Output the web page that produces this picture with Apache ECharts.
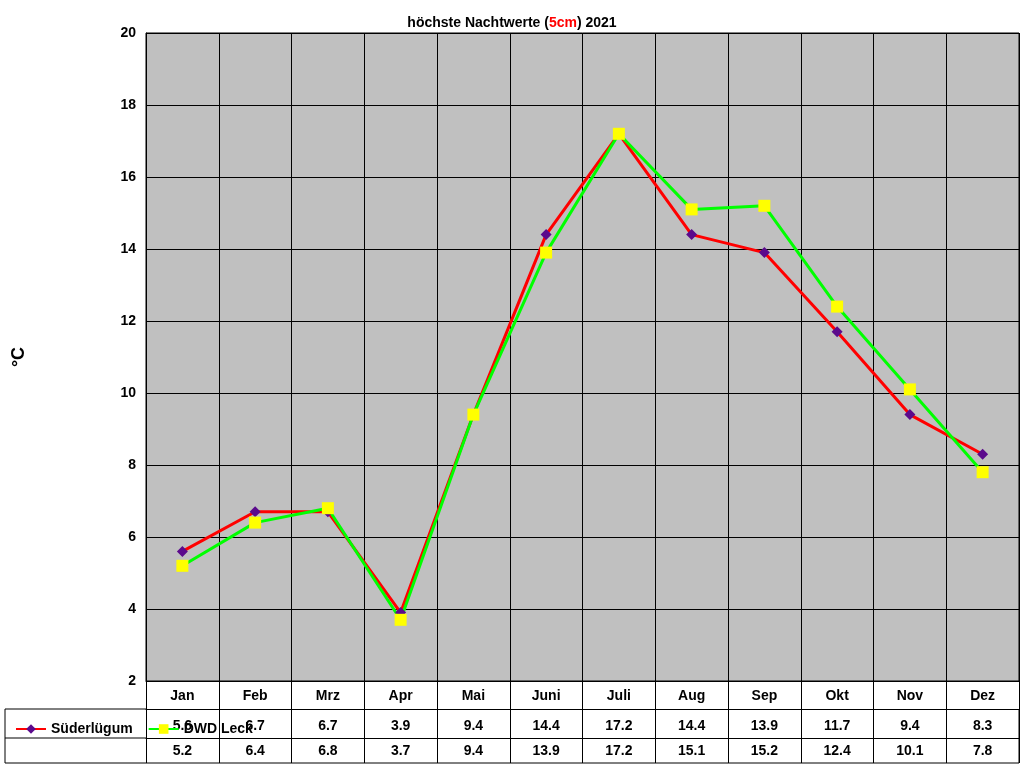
<!DOCTYPE html>
<html><head><meta charset="utf-8">
<script src="https://cdn.jsdelivr.net/npm/echarts@6/dist/echarts.min.js"></script>
<style>html,body{margin:0;padding:0;background:#fff}#c{width:1024px;height:768px}</style>
</head><body><div id="c"></div>
<script>
const months = ['Jan','Feb','Mrz','Apr','Mai','Juni','Juli','Aug','Sep','Okt','Nov','Dez'];
const suederluegum = [5.6,6.7,6.7,3.9,9.4,14.4,17.2,14.4,13.9,11.7,9.4,8.3];
const dwdLeck = [5.2,6.4,6.8,3.7,9.4,13.9,17.2,15.1,15.2,12.4,10.1,7.8];
const yTicks = {min:2, max:20, interval:2};

const F = {fontFamily:'Arial, Liberation Sans, sans-serif', fontWeight:'bold', fontSize:14, color:'#000'};
const chart = echarts.init(document.getElementById('c'));
function tableAxis(data, offset, margin, showLine){
  return {type:'category', data:data.map(v=>v.toFixed(1)), position:'bottom', offset:offset, gridIndex:0,
    boundaryGap:true, axisLine:{show:showLine, lineStyle:{color:'#000',width:1}},
    axisTick:{show:false}, axisLabel:Object.assign({margin:margin, interval:0}, F),
    splitLine:{show:false}};
}
chart.setOption({
  animation:false,
  title:{text:'höchste Nachtwerte ({r|5cm}) 2021', left:'center', top:11,
    textStyle:Object.assign({}, F, {rich:{r:Object.assign({}, F, {color:'#FF0000', textDecoration:'underline'})}})},
  grid:{left:146, right:5, top:33, bottom:87, show:true, backgroundColor:'#C0C0C0', borderColor:'#000', borderWidth:1},
  legend:{orient:'vertical', left:10, top:717, itemGap:15, itemWidth:30, itemHeight:12,
    textStyle:F, data:['Süderlügum','DWD Leck']},
  xAxis:[
    {type:'category', data:months, boundaryGap:true, axisLine:{lineStyle:{color:'#000'}},
     axisTick:{show:true, length:82, interval:0, lineStyle:{color:'#000'}},
     axisLabel:Object.assign({margin:8, interval:0}, F),
     splitLine:{show:true, interval:0, lineStyle:{color:'#000'}}},
    tableAxis(suederluegum, 28, 10, true),
    tableAxis(dwdLeck, 57, 6, true)
  ],
  yAxis:{type:'value', min:yTicks.min, max:yTicks.max, interval:yTicks.interval,
    name:'°C', nameLocation:'middle', nameGap:118, nameRotate:90,
    nameTextStyle:Object.assign({}, F, {fontSize:18}),
    axisLine:{show:true, lineStyle:{color:'#000'}}, axisTick:{show:false},
    axisLabel:Object.assign({margin:10}, F),
    splitLine:{lineStyle:{color:'#000'}}},
  graphic:[
    {type:'polyline', shape:{points:[[146,709],[5,709],[5,763],[1019,763],[1019,709]]}, style:{stroke:'#000', fill:null, lineWidth:1}},
    {type:'line', shape:{x1:5,y1:738,x2:146,y2:738}, style:{stroke:'#000', lineWidth:1}}
  ],
  series:[
    {name:'Süderlügum', type:'line', data:suederluegum, xAxisIndex:0,
     lineStyle:{color:'#FF0000', width:3}, symbol:'diamond', symbolSize:11,
     itemStyle:{color:'#5B0A8C', borderWidth:0}, color:'#FF0000'},
    {name:'DWD Leck', type:'line', data:dwdLeck, xAxisIndex:0,
     lineStyle:{color:'#00FF00', width:3}, symbol:'rect', symbolSize:12,
     itemStyle:{color:'#FFFF00', borderWidth:0}, color:'#00FF00'}
  ]
});
</script></body></html>
